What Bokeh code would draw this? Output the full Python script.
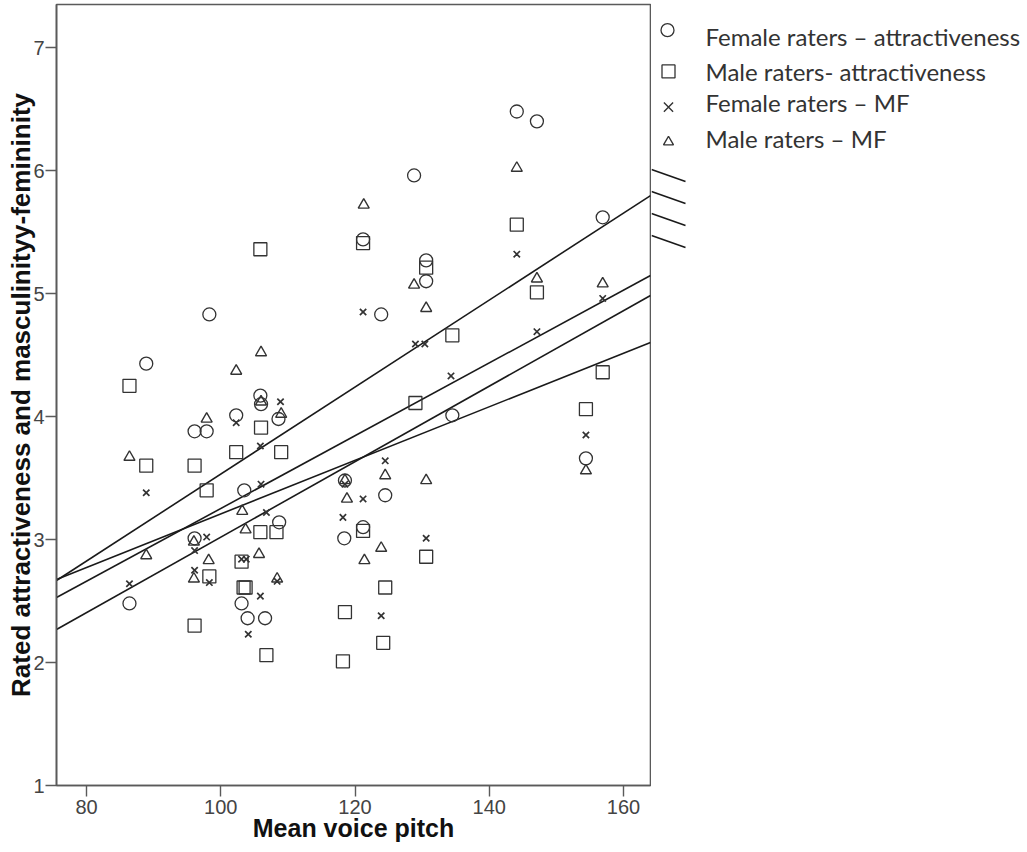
from bokeh.plotting import figure
from bokeh.models import Range1d, FixedTicker
from bokeh.layouts import row
from bokeh.embed import file_html
from bokeh.resources import INLINE
from bokeh.core.properties import value

# ---------------- data ----------------
# Female raters - attractiveness (circles)
fa_x = [86.4, 88.9, 96.1, 96.1, 97.9, 98.3, 102.3, 103.1, 103.5, 104.0, 105.9, 106.0, 106.6, 108.6,
        108.7, 118.4, 118.5, 121.2, 121.2, 123.9, 124.5, 128.8, 130.6, 130.6, 134.5, 144.1, 147.1,
        154.4, 156.9]
fa_y = [2.48, 4.43, 3.88, 3.01, 3.88, 4.83, 4.01, 2.48, 3.40, 2.36, 4.17, 4.10, 2.36, 3.98,
        3.14, 3.01, 3.48, 5.44, 3.10, 4.83, 3.36, 5.96, 5.27, 5.10, 4.01, 6.48, 6.40,
        3.66, 5.62]
# Male raters - attractiveness (squares)
ma_x = [86.4, 88.9, 96.1, 96.1, 97.9, 98.3, 102.3, 103.1, 103.4, 103.7, 105.9, 106.0, 105.9, 106.8,
        108.3, 109.0, 118.2, 118.5, 121.2, 121.2, 124.2, 124.5, 129.0, 130.6, 130.6, 134.5, 144.1,
        147.1, 154.4, 156.9]
ma_y = [4.25, 3.60, 3.60, 2.30, 3.40, 2.70, 3.71, 2.82, 2.61, 2.61, 5.36, 3.91, 3.06, 2.06,
        3.06, 3.71, 2.01, 2.41, 5.41, 3.07, 2.16, 2.61, 4.11, 5.21, 2.86, 4.66, 5.56,
        5.01, 4.06, 4.36]
# Female raters - MF (crosses)
fm_x = [86.4, 88.9, 96.1, 96.1, 97.9, 98.3, 102.3, 103.1, 103.8, 104.1, 105.9, 106.0, 105.9, 106.8,
        108.4, 108.9, 118.2, 118.5, 121.2, 121.2, 123.9, 124.5, 129.0, 130.4, 130.6, 134.3, 144.1,
        147.1, 154.4, 156.9]
fm_y = [2.64, 3.38, 2.91, 2.75, 3.02, 2.65, 3.95, 2.84, 2.84, 2.23, 3.76, 3.45, 2.54, 3.22,
        2.66, 4.12, 3.18, 3.45, 4.85, 3.33, 2.38, 3.64, 4.59, 4.59, 3.01, 4.33, 5.32,
        4.69, 3.85, 4.96]
# Male raters - MF (triangles)
mm_x = [86.4, 88.9, 96.0, 96.0, 97.9, 98.2, 102.3, 103.2, 103.7, 105.7, 106.0, 106.0, 108.4, 109.0,
        118.5, 118.8, 121.3, 121.4, 123.9, 124.5, 128.8, 130.6, 130.6, 144.1, 147.1, 154.4, 156.9]
mm_y = [3.67, 2.87, 2.98, 2.68, 3.98, 2.83, 4.37, 3.23, 3.08, 2.88, 4.52, 4.12, 2.68, 4.02,
        3.48, 3.33, 5.72, 2.83, 2.93, 3.52, 5.07, 4.88, 3.48, 6.02, 5.12, 3.56, 5.08]

# fit lines (intercept, slope) for each series
fit_series = ["Female raters – attractiveness", "Male raters- attractiveness",
              "Female raters – MF", "Male raters – MF"]
fit_intercept = [-0.005, 1.030, 0.293, -0.050]
fit_slope = [0.03537, 0.02178, 0.02959, 0.03069]

legend_labels = ["Female raters – attractiveness", "Male raters- attractiveness",
                 "Female raters – MF", "Male raters – MF"]
x_ticks = [80, 100, 120, 140, 160]
y_ticks = [1, 2, 3, 4, 5, 6, 7]

X_START, X_END = 75.53, 164.02
Y_START, Y_END = 1.0, 7.35

MK = "#333333"
FRAME = "#5a5a5a"

# ---------------- main plot ----------------
p = figure(frame_width=594, frame_height=781,
           x_range=Range1d(X_START, X_END), y_range=Range1d(Y_START, Y_END),
           output_backend="svg", toolbar_location=None,
           min_border_left=56, min_border_right=1, min_border_top=4, min_border_bottom=67)
p.xgrid.visible = False
p.ygrid.visible = False
p.outline_line_color = FRAME
p.outline_line_width = 1.6
p.background_fill_color = "white"
p.border_fill_color = "white"

p.xaxis.ticker = FixedTicker(ticks=x_ticks)
p.yaxis.ticker = FixedTicker(ticks=y_ticks)
for ax in (p.xaxis, p.yaxis):
    ax.axis_line_color = FRAME
    ax.axis_line_width = 1.6
    ax.major_tick_line_color = FRAME
    ax.major_tick_line_width = 1.4
    ax.major_tick_out = 11
    ax.major_tick_in = 0
    ax.minor_tick_out = 0
    ax.minor_tick_in = 0
    ax.major_label_text_font = "Liberation Sans"
    ax.major_label_text_font_size = "20px"
    ax.major_label_text_color = "#444444"
    ax.axis_label_text_font = "Liberation Sans"
    ax.axis_label_text_font_style = "bold"
    ax.axis_label_text_color = "#111111"
p.xaxis.axis_label_text_font_size = "25px"
p.yaxis.axis_label_text_font_size = "26px"
p.xaxis.axis_label = "Mean voice pitch"
p.yaxis.axis_label = "Rated attractiveness and masculinityy-femininity"
p.xaxis.major_label_standoff = 3
p.yaxis.major_label_standoff = 1
p.xaxis.axis_label_standoff = -3
p.yaxis.axis_label_standoff = -6

# fit lines
xs = [[X_START, X_END] for _ in fit_intercept]
ys = [[a + b * X_START, a + b * X_END] for a, b in zip(fit_intercept, fit_slope)]
p.multi_line(xs=xs, ys=ys, line_color="#1a1a1a", line_width=1.6)

# scatter
p.scatter(fa_x, fa_y, marker="circle", size=13, fill_color=None, line_color=MK, line_width=1.3)
p.scatter(ma_x, ma_y, marker="square", size=13, fill_color=None, line_color=MK, line_width=1.3)
p.scatter(fm_x, fm_y, marker="x", size=9, line_color=MK, line_width=1.7)
p.scatter(mm_x, mm_y, marker="triangle", size=11, fill_color=None, line_color=MK, line_width=1.4)

# ---------------- legend panel ----------------
leg = figure(width=376, height=852, x_range=Range1d(0, 376), y_range=Range1d(852, 0),
             output_backend="svg", toolbar_location=None,
             x_axis_location=None, y_axis_location=None, min_border=0)
leg.xgrid.visible = False
leg.ygrid.visible = False
leg.outline_line_color = None

leg.scatter([16], [28], marker="circle", size=13, fill_color=None, line_color=MK, line_width=1.3)
leg.scatter([17], [73], marker="square", size=13, fill_color=None, line_color=MK, line_width=1.3)
leg.scatter([17], [112], marker="x", size=13, line_color=MK, line_width=1.4)
leg.scatter([17], [150], marker="triangle", size=10, fill_color=None, line_color=MK, line_width=1.4)
leg.text(x=[54] * 4, y=[35, 73, 107, 146], text=legend_labels,
         text_font=value("Lato"), text_font_size="24px", text_baseline="middle",
         text_color="#333333")
leg.segment(x0=[0, 0, 0, 0], y0=[180, 204, 228, 252], x1=[34, 34, 34, 34], y1=[193, 217, 241, 265],
            line_color="#1a1a1a", line_width=1.6)

layout = row(p, leg)
open("out.html", "w").write(file_html(layout, INLINE))
